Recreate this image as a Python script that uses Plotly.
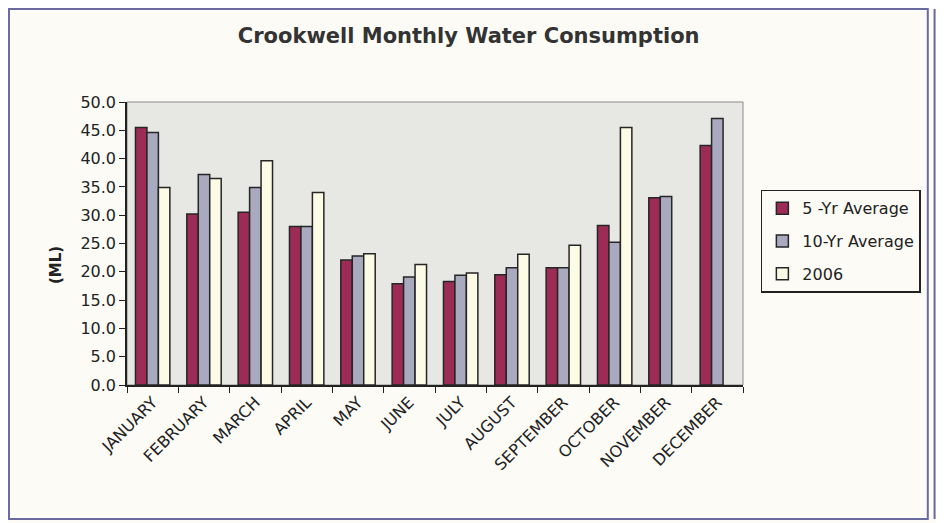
import plotly.graph_objects as go

months = ["JANUARY", "FEBRUARY", "MARCH", "APRIL", "MAY", "JUNE", "JULY",
          "AUGUST", "SEPTEMBER", "OCTOBER", "NOVEMBER", "DECEMBER"]
avg5 = [45.5, 30.2, 30.5, 28.0, 22.1, 17.9, 18.3, 19.5, 20.7, 28.2, 33.1, 42.3]
avg10 = [44.6, 37.2, 34.9, 28.0, 22.8, 19.1, 19.4, 20.7, 20.7, 25.2, 33.3, 47.1]
y2006 = [34.9, 36.5, 39.6, 34.0, 23.2, 21.3, 19.8, 23.1, 24.7, 45.5, None, None]
yticks = [0, 5, 10, 15, 20, 25, 30, 35, 40, 45, 50]

font = "DejaVu Sans, Arial, sans-serif"
fig = go.Figure()
for i, (name, vals, col) in enumerate([("5 -Yr Average", avg5, "#9c2c55"),
                                       ("10-Yr Average", avg10, "#a9a9c0"),
                                       ("2006", y2006, "#fcfbe6")]):
    fig.add_trace(go.Bar(x=months, y=vals, name=name, legendgroup=str(i),
                         marker=dict(color=col, line=dict(color="#262626", width=1.5))))

# page has an 8px body margin: compensate so the plot area sits at x 127-743, y 102-385
fig.update_layout(
    width=944, height=523,
    margin=dict(l=119, r=209, t=94, b=146),
    paper_bgcolor="#fcfbf6", plot_bgcolor="#e7e7e4",
    barmode="group", bargap=0.33, bargroupgap=0,
    font=dict(family=font, size=15, color="#222"),
    title=dict(text="<b>Crookwell Monthly Water Consumption</b>", x=0.488, xanchor="center",
               y=0.948, yanchor="middle", font=dict(size=21, family=font, color="#333")),
    legend=dict(x=1.029, y=0.69, xanchor="left", yanchor="top",
                bgcolor="#fcfbf6", bordercolor="#222", borderwidth=1.5,
                font=dict(size=16, family=font), tracegroupgap=9,
                itemwidth=30),
    showlegend=True,
)
fig.update_xaxes(showline=True, linecolor="#222", linewidth=1.5, mirror=False,
                 ticks="outside", tickson="boundaries", ticklen=6, tickcolor="#222",
                 tickangle=-45, tickfont=dict(size=16, family=font), showgrid=False)
fig.update_yaxes(range=[0, 50], tickvals=yticks, tickformat=".1f", showline=True,
                 linecolor="#222", linewidth=1.5, ticks="outside", ticklen=6,
                 tickcolor="#222", showgrid=False, zeroline=False,
                 tickfont=dict(size=16, family=font))
# plot area top/right border
fig.add_shape(type="rect", xref="paper", yref="paper", x0=0, x1=1, y0=0, y1=1,
              line=dict(color="#8a8a8a", width=1), layer="below")
# outer frame
fig.add_shape(type="rect", xref="paper", yref="paper", x0=-0.1916, x1=1.300,
              y0=-0.4735, y1=1.3286, line=dict(color="#6a6aa0", width=2))
fig.add_shape(type="line", xref="paper", yref="paper", x0=1.311, x1=1.311,
              y0=-0.4735, y1=1.3286, line=dict(color="#6a6aa0", width=2))
fig.add_annotation(text="<b>(ML)</b>", xref="paper", yref="paper", x=-0.133, y=0.424,
                   textangle=-90, showarrow=False, font=dict(size=15, family=font, color="#222"))
fig.write_html("out.html")
